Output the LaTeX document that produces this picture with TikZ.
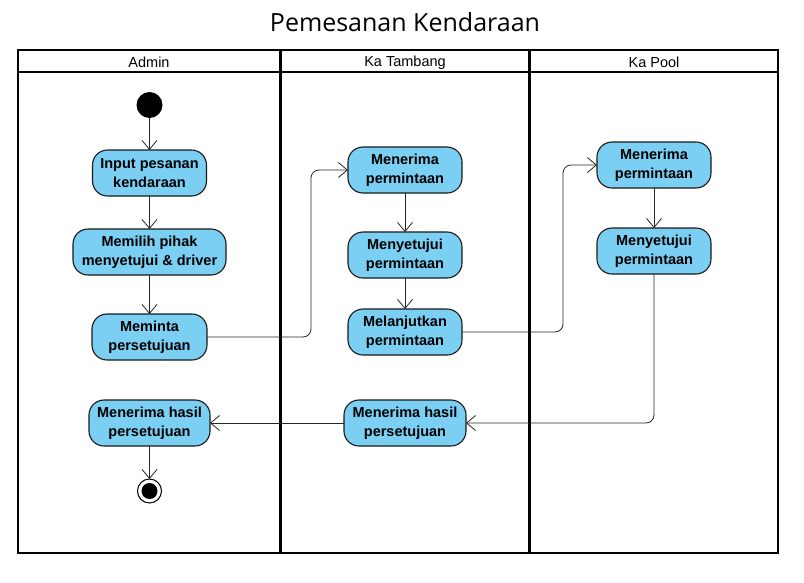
\documentclass[tikz,border=0pt]{standalone}
\usepackage{fontspec}
\setmainfont{Liberation Sans}
\newfontfamily\titlefont{Open Sans}
\usetikzlibrary{arrows.meta,positioning}

\definecolor{actblue}{RGB}{123,207,243}

\begin{document}
\begin{tikzpicture}[x=1pt,y=-1pt,>={Straight Barb[length=9pt,width=15pt]},
    act/.style={draw=black!90,fill=actblue,rounded corners=15pt,line width=1.1pt,
        minimum width=114pt,minimum height=46pt,inner sep=0pt,outer sep=0pt,align=center,
        font=\fontsize{14.5}{18.5}\selectfont\bfseries},
    flow/.style={->,line width=0.8pt,draw=black!85,rounded corners=8pt},
    lane/.style={line width=2pt},
    node distance=33pt]

    \useasboundingbox (0,0) rectangle (804,582);

    % judul dan swimlane
    \node (title) at (405,22) {\titlefont\fontsize{25}{29}\selectfont Pemesanan Kendaraan};
    \draw[lane] (18,50) rectangle (778,553);
    \draw[lane] (18,72) -- (778,72);
    \draw[line width=3pt] (280,50) -- (280,553)
                          (529,50) -- (529,553);
    \node (admin) at (149,62.5) {\fontsize{14.5}{16}\selectfont Admin};
    \node (tambang) at (405,62.5) {\fontsize{14.5}{16}\selectfont Ka Tambang};
    \node (pool) at (654,62.5) {\fontsize{14.5}{16}\selectfont Ka Pool};

    % Admin
    \node[circle,fill=black,minimum size=26pt,inner sep=0pt,outer sep=0pt] (start) at (149.5,105) {};
    \node[act] (inputA) [below=32pt of start] {Input pesanan\\kendaraan};
    \node[act,minimum width=153pt] (pilihA) [below=of inputA] {Memilih pihak\\menyetujui \& driver};
    \node[act,minimum width=115pt] (mintaA) [below=39pt of pilihA] {Meminta\\persetujuan};
    \node[act,minimum width=121pt] (hasilA) [below=40pt of mintaA] {Menerima hasil\\persetujuan};
    \node[circle,draw=black,line width=1pt,fill=white,minimum size=24pt,inner sep=0pt,outer sep=0pt] (end) [below=33pt of hasilA] {};
    \node[circle,fill=black,minimum size=16pt,inner sep=0pt] (endin) at (end) {};

    % Ka Tambang
    \node[act] (terimaT) at (405,170) {Menerima\\permintaan};
    \node[act] (setujuT) [below=39pt of terimaT] {Menyetujui\\permintaan};
    \node[act] (lanjutT) [below=31pt of setujuT] {Melanjutkan\\permintaan};
    \node[act,minimum width=122pt] (hasilT) at (405,423) {Menerima hasil\\persetujuan};

    % Ka Pool
    \node[act] (terimaP) at (654,165) {Menerima\\permintaan};
    \node[act] (setujuP) [below=40pt of terimaP] {Menyetujui\\permintaan};

    \foreach \from/\to in {start/inputA, inputA/pilihA, pilihA/mintaA, hasilA/end,
                           terimaT/setujuT, setujuT/lanjutT, terimaP/setujuP}
        {
        \draw[flow] (\from) -- (\to);
        }

    \draw[flow] (mintaA.east) -- ++(104,0) |- (terimaT.west);
    \draw[flow] (lanjutT.east) -- ++(101,0) |- (terimaP.west);
    \draw[flow] (setujuP.south) |- (hasilT.east);
    \draw[flow] (hasilT.west) -- (hasilA.east);

\end{tikzpicture}
\end{document}
